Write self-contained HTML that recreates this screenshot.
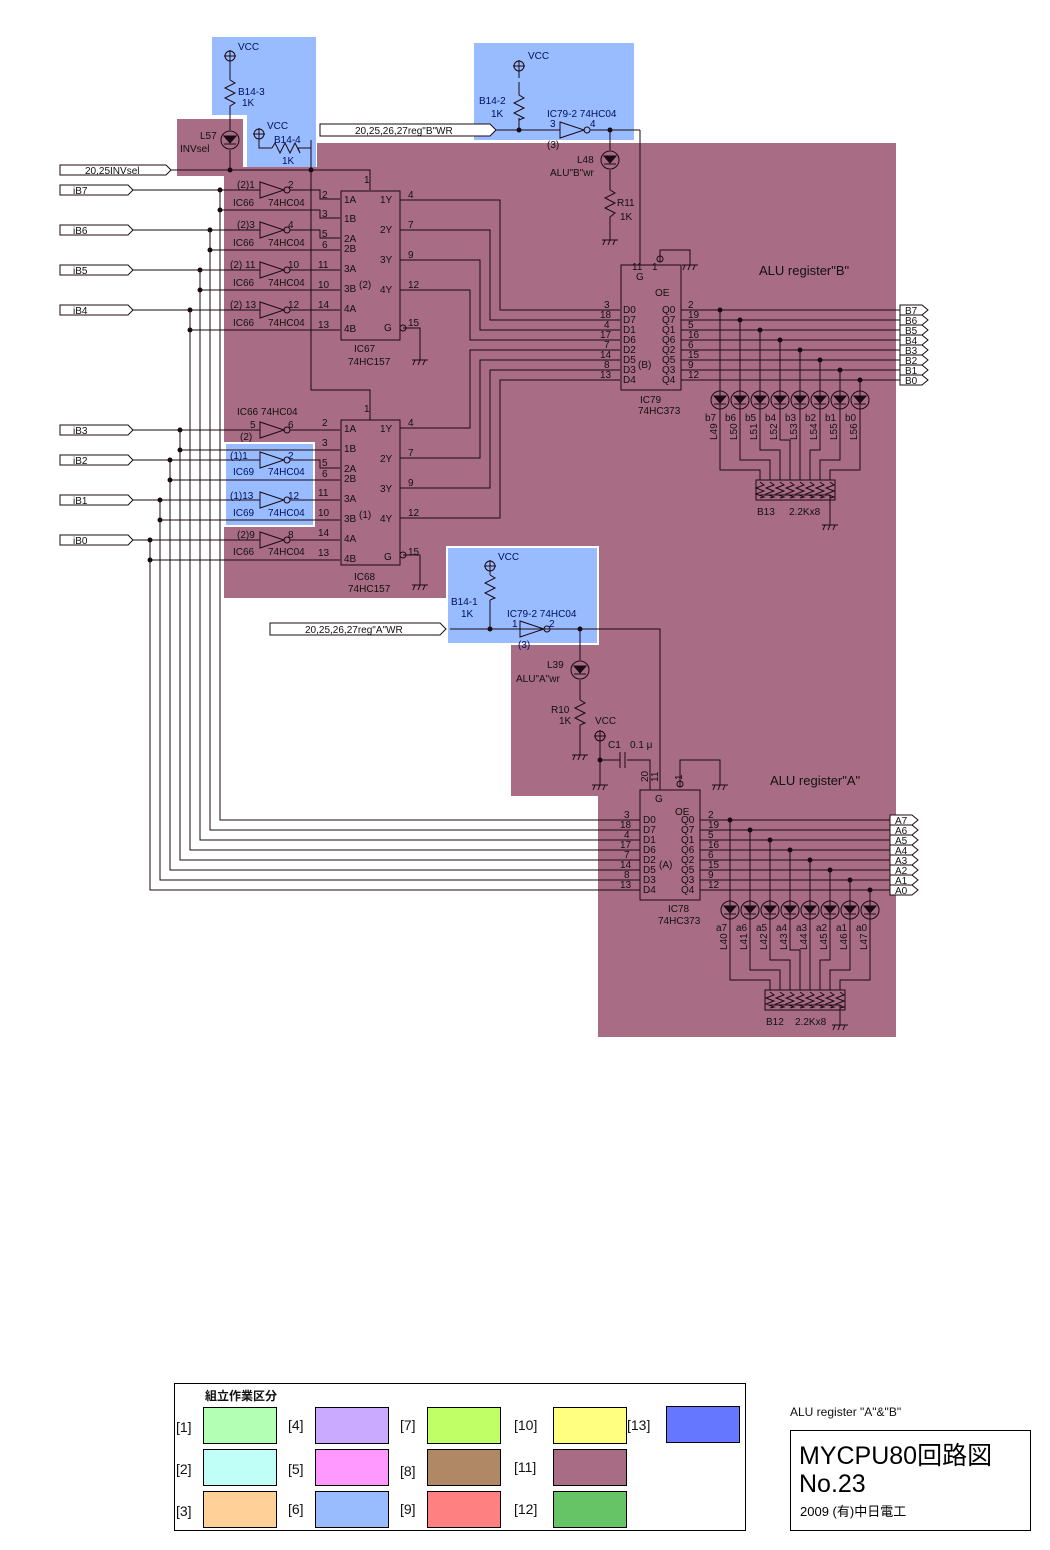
<!DOCTYPE html>
<html><head><meta charset="utf-8">
<style>
html,body{margin:0;padding:0;background:#fff;}
svg{display:block;}
text{font-family:"Liberation Sans","Noto Sans CJK JP",sans-serif;font-size:10px;fill:#111;}
.b text{fill:#001060;}
</style></head>
<body>
<svg width="1050" height="1550" viewBox="0 0 1050 1550" xmlns="http://www.w3.org/2000/svg">
<!-- colour regions -->
<g fill="#a86c84">
<rect x="317" y="143" width="579" height="405"/>
<rect x="224" y="167" width="100" height="381"/>
<rect x="224" y="548" width="222" height="50"/>
<rect x="597" y="548" width="299" height="95"/>
<rect x="511" y="643" width="385" height="153"/>
<rect x="598" y="796" width="298" height="241"/>
<rect x="177" y="119" width="66" height="57"/>
</g>
<g fill="#99bbff">
<rect x="212" y="37" width="104" height="78"/>
<rect x="247" y="115" width="69" height="52"/>
<rect x="474" y="43" width="160" height="97"/>
<rect x="226" y="444" width="87" height="81"/>
<rect x="448" y="548" width="149" height="95"/>
</g>
<g fill="none" stroke="#fff" stroke-width="2">
<rect x="225" y="443" width="89" height="83"/>
<rect x="447" y="547" width="151" height="97"/>
</g>

<g stroke="#1a0a12" stroke-width="1" fill="none">
<!-- input labels -->
<path d="M60,165h106l5,5l-5,5h-106z" fill="#fff"/>
<path d="M60,185h68l5,5l-5,5h-68z" fill="#fff"/>
<path d="M60,225h68l5,5l-5,5h-68z" fill="#fff"/>
<path d="M60,265h68l5,5l-5,5h-68z" fill="#fff"/>
<path d="M60,305h68l5,5l-5,5h-68z" fill="#fff"/>
<path d="M60,425h68l5,5l-5,5h-68z" fill="#fff"/>
<path d="M60,455h68l5,5l-5,5h-68z" fill="#fff"/>
<path d="M60,495h68l5,5l-5,5h-68z" fill="#fff"/>
<path d="M60,535h68l5,5l-5,5h-68z" fill="#fff"/>
<path d="M171,170H370V190"/>
<!-- inputs to inverters -->
<path d="M133,190H260M133,230H260M133,270H260M133,310H260M133,430H260M133,460H260M133,500H260M133,540H260"/>
<!-- branches to B inputs -->
<path d="M220,210H320V218H340M210,250H340M200,290H340M190,330H340"/>
<path d="M180,450H340M170,480H340M160,520H340M150,560H340"/>
<!-- inverter outputs -->
<path d="M290,190H320V199H340M290,230H320V238H340M290,270H340M290,310H340"/>
<path d="M290,430H340M290,460H320V468H340M290,500H340M290,540H340"/>
<!-- buses -->
<path d="M220,190V820H640M210,230V830H640M200,270V840H640M190,310V850H640M180,430V860H640M170,460V870H640M160,500V880H640M150,540V890H640"/>
<!-- inverters -->
<g fill="none">
<path d="M260,182V198L284,190Z"/><circle cx="287" cy="190" r="3"/>
<path d="M260,222V238L284,230Z"/><circle cx="287" cy="230" r="3"/>
<path d="M260,262V278L284,270Z"/><circle cx="287" cy="270" r="3"/>
<path d="M260,302V318L284,310Z"/><circle cx="287" cy="310" r="3"/>
<path d="M260,422V438L284,430Z"/><circle cx="287" cy="430" r="3"/>
<path d="M260,452V468L284,460Z"/><circle cx="287" cy="460" r="3"/>
<path d="M260,492V508L284,500Z"/><circle cx="287" cy="500" r="3"/>
<path d="M260,532V548L284,540Z"/><circle cx="287" cy="540" r="3"/>
</g>
<!-- IC67 / IC68 -->
<rect x="341" y="191" width="59" height="149"/>
<rect x="341" y="420" width="59" height="145"/>
<path d="M311,140V390H370V420"/>
<path d="M403,328H420V360M403,555H420V585"/>
<circle cx="403" cy="328" r="3"/><circle cx="403" cy="555" r="3"/>
<!-- mux outputs to IC79 -->
<path d="M400,200H500V310H620M400,230H490V320H620M400,260H480V330H620M400,290H470V340H620"/>
<path d="M400,428H470V350H620M400,458H480V360H620M400,488H490V370H620M400,518H500V380H620"/>
<!-- IC79 -->
<rect x="621" y="265" width="60" height="125"/>
<path d="M640,265V130M660,262V250H690V265"/><circle cx="660" cy="259" r="3"/>
<path d="M681,310H900M681,320H900M681,330H900M681,340H900M681,350H900M681,360H900M681,370H900M681,380H900"/>
<path d="M900,305h22l6,5l-6,5h-22zM900,315h22l6,5l-6,5h-22zM900,325h22l6,5l-6,5h-22zM900,335h22l6,5l-6,5h-22zM900,345h22l6,5l-6,5h-22zM900,355h22l6,5l-6,5h-22zM900,365h22l6,5l-6,5h-22zM900,375h22l6,5l-6,5h-22z" fill="#fff"/>
<path d="M720,310V470H760V480M740,320V460H770V480M760,330V450H780V480M780,340V440H790V480M800,350V440V480M820,360V450H810V480M840,370V460H820V480M860,380V470H830V480"/>
<rect x="756" y="480" width="79" height="20"/>
<path d="M760,495H830V525"/>
<!-- IC78 -->
<rect x="640" y="790" width="60" height="110"/>
<path d="M700,820H890M700,830H890M700,840H890M700,850H890M700,860H890M700,870H890M700,880H890M700,890H890"/>
<path d="M890,815h22l6,5l-6,5h-22zM890,825h22l6,5l-6,5h-22zM890,835h22l6,5l-6,5h-22zM890,845h22l6,5l-6,5h-22zM890,855h22l6,5l-6,5h-22zM890,865h22l6,5l-6,5h-22zM890,875h22l6,5l-6,5h-22zM890,885h22l6,5l-6,5h-22z" fill="#fff"/>
<path d="M730,820V980H770V990M750,830V970H780V990M770,840V960H790V990M790,850V950H800V990M810,860V950V990M830,870V960H820V990M850,880V970H830V990M870,890V980H840V990"/>
<rect x="765" y="990" width="80" height="20"/>
<path d="M770,1005H840V1025"/>
<path d="M660,790V629H450M680,787V760H720V785"/><circle cx="680" cy="784" r="3"/>
<path d="M650,790V760H627M620,760H600V785M600,760V740"/>
<path d="M620,752V768M625,752V768"/>
<!-- register A write -->
<path d="M270,623h170l6,6l-6,6h-170z" fill="#fff"/>
<path d="M490,629H520M490,629V600M490,575V565"/>
<path d="M520,621V637L544,629Z"/><circle cx="547" cy="629" r="3"/>
<path d="M550,629H660M580,629V660M580,680V700M580,725V755"/>
<!-- register B write -->
<path d="M320,124h170l6,6l-6,6h-170z" fill="#fff"/>
<path d="M496,130H560M519,130V118M519,78V70M519,95V82"/>
<path d="M560,122V138L584,130Z"/><circle cx="587" cy="130" r="3"/>
<path d="M590,130H640M610,130V150M610,170V190M610,222V240"/>
<!-- top left -->
<path d="M230,60V80M230,110V130M230,150V170M259,138V148H272M300,148H311"/>
</g>

<!-- resistors -->
<g stroke="#1a0a12" fill="none">
<path d="M230,80l5,3l-10,5l10,5l-10,5l10,5l-5,3V110"/>
<path d="M519,95l5,3l-10,5l10,5l-10,5l10,5l-5,2V130"/>
<path d="M490,575l5,3l-10,5l10,5l-10,5l10,5l-5,2V600"/>
<path d="M610,190l5,3l-10,5l10,5l-10,5l10,5l-5,4V222"/>
<path d="M580,700l5,3l-10,5l10,5l-10,5l10,5l-5,2V725"/>
<path d="M272,148l3,-5l5,10l5,-10l5,10l5,-10l5,10l-2,-5H300"/>
<path d="M760,482l4,3l-8,3l8,3l-8,3l8,3l-4,1M770,482l4,3l-8,3l8,3l-8,3l8,3l-4,1M780,482l4,3l-8,3l8,3l-8,3l8,3l-4,1M790,482l4,3l-8,3l8,3l-8,3l8,3l-4,1M800,482l4,3l-8,3l8,3l-8,3l8,3l-4,1M810,482l4,3l-8,3l8,3l-8,3l8,3l-4,1M820,482l4,3l-8,3l8,3l-8,3l8,3l-4,1M830,482l4,3l-8,3l8,3l-8,3l8,3l-4,1"/>
<path d="M770,992l4,3l-8,3l8,3l-8,3l8,3l-4,1M780,992l4,3l-8,3l8,3l-8,3l8,3l-4,1M790,992l4,3l-8,3l8,3l-8,3l8,3l-4,1M800,992l4,3l-8,3l8,3l-8,3l8,3l-4,1M810,992l4,3l-8,3l8,3l-8,3l8,3l-4,1M820,992l4,3l-8,3l8,3l-8,3l8,3l-4,1M830,992l4,3l-8,3l8,3l-8,3l8,3l-4,1M840,992l4,3l-8,3l8,3l-8,3l8,3l-4,1"/>
</g>

<!-- grounds -->
<g stroke="#1a0a12" fill="none">
<path d="M412,360h16M415,360l-2,5M420,360l-2,5M425,360l-2,5"/>
<path d="M412,585h16M415,585l-2,5M420,585l-2,5M425,585l-2,5"/>
<path d="M682,265h16M685,265l-2,5M690,265l-2,5M695,265l-2,5"/>
<path d="M602,240h16M605,240l-2,5M610,240l-2,5M615,240l-2,5"/>
<path d="M822,525h16M825,525l-2,5M830,525l-2,5M835,525l-2,5"/>
<path d="M572,755h16M575,755l-2,5M580,755l-2,5M585,755l-2,5"/>
<path d="M592,785h16M595,785l-2,5M600,785l-2,5M605,785l-2,5"/>
<path d="M712,785h16M715,785l-2,5M720,785l-2,5M725,785l-2,5"/>
<path d="M832,1025h16M835,1025l-2,5M840,1025l-2,5M845,1025l-2,5"/>
</g>

<!-- VCC symbols -->
<g stroke="#1a0a12" fill="none">
<circle cx="230" cy="56" r="5"/><path d="M224,56h12M230,50v10"/>
<circle cx="259" cy="134" r="5"/><path d="M253,134h12M259,128v10"/>
<circle cx="519" cy="66" r="5"/><path d="M513,66h12M519,60v10"/>
<circle cx="490" cy="566" r="5"/><path d="M484,566h12M490,560v10"/>
<circle cx="600" cy="736" r="5"/><path d="M594,736h12M600,730v10"/>
</g>

<!-- LEDs -->
<g stroke="#1a0a12" fill="none">
<circle cx="230" cy="140" r="9"/><circle cx="610" cy="160" r="9"/><circle cx="580" cy="670" r="9"/>
<circle cx="720" cy="400" r="9"/><circle cx="740" cy="400" r="9"/><circle cx="760" cy="400" r="9"/><circle cx="780" cy="400" r="9"/><circle cx="800" cy="400" r="9"/><circle cx="820" cy="400" r="9"/><circle cx="840" cy="400" r="9"/><circle cx="860" cy="400" r="9"/>
<circle cx="730" cy="910" r="9"/><circle cx="750" cy="910" r="9"/><circle cx="770" cy="910" r="9"/><circle cx="790" cy="910" r="9"/><circle cx="810" cy="910" r="9"/><circle cx="830" cy="910" r="9"/><circle cx="850" cy="910" r="9"/><circle cx="870" cy="910" r="9"/>
</g>
<g fill="#1a0a12" stroke="#1a0a12">
<path d="M224,136h12l-6,7zM224,144h12"/><path d="M604,156h12l-6,7zM604,164h12"/><path d="M574,666h12l-6,7zM574,674h12"/>
<path d="M714,396h12l-6,7zM714,404h12M734,396h12l-6,7zM734,404h12M754,396h12l-6,7zM754,404h12M774,396h12l-6,7zM774,404h12M794,396h12l-6,7zM794,404h12M814,396h12l-6,7zM814,404h12M834,396h12l-6,7zM834,404h12M854,396h12l-6,7zM854,404h12"/>
<path d="M724,906h12l-6,7zM724,914h12M744,906h12l-6,7zM744,914h12M764,906h12l-6,7zM764,914h12M784,906h12l-6,7zM784,914h12M804,906h12l-6,7zM804,914h12M824,906h12l-6,7zM824,914h12M844,906h12l-6,7zM844,914h12M864,906h12l-6,7zM864,914h12"/>
</g>

<!-- dots -->
<g fill="#1a0a12">
<circle cx="220" cy="190" r="2.5"/><circle cx="220" cy="210" r="2.5"/>
<circle cx="210" cy="230" r="2.5"/><circle cx="210" cy="250" r="2.5"/>
<circle cx="200" cy="270" r="2.5"/><circle cx="200" cy="290" r="2.5"/>
<circle cx="190" cy="310" r="2.5"/><circle cx="190" cy="330" r="2.5"/>
<circle cx="180" cy="430" r="2.5"/><circle cx="180" cy="450" r="2.5"/>
<circle cx="170" cy="460" r="2.5"/><circle cx="170" cy="480" r="2.5"/>
<circle cx="160" cy="500" r="2.5"/><circle cx="160" cy="520" r="2.5"/>
<circle cx="150" cy="540" r="2.5"/><circle cx="150" cy="560" r="2.5"/>
<circle cx="230" cy="170" r="2.5"/><circle cx="311" cy="170" r="2.5"/>
<circle cx="519" cy="130" r="2.5"/><circle cx="610" cy="130" r="2.5"/>
<circle cx="490" cy="629" r="2.5"/><circle cx="580" cy="629" r="2.5"/><circle cx="600" cy="760" r="2.5"/>
<circle cx="720" cy="310" r="2.5"/><circle cx="740" cy="320" r="2.5"/><circle cx="760" cy="330" r="2.5"/><circle cx="780" cy="340" r="2.5"/><circle cx="800" cy="350" r="2.5"/><circle cx="820" cy="360" r="2.5"/><circle cx="840" cy="370" r="2.5"/><circle cx="860" cy="380" r="2.5"/>
<circle cx="730" cy="820" r="2.5"/><circle cx="750" cy="830" r="2.5"/><circle cx="770" cy="840" r="2.5"/><circle cx="790" cy="850" r="2.5"/><circle cx="810" cy="860" r="2.5"/><circle cx="830" cy="870" r="2.5"/><circle cx="850" cy="880" r="2.5"/><circle cx="870" cy="890" r="2.5"/>
</g>

<!-- texts -->
<text x="85" y="174">20,25INVsel</text>
<text x="73" y="194">iB7</text><text x="73" y="234">iB6</text><text x="73" y="274">iB5</text><text x="73" y="314">iB4</text>
<text x="73" y="434">iB3</text><text x="73" y="464">iB2</text><text x="73" y="504">iB1</text><text x="73" y="544">iB0</text>
<g class="b">
<text x="238" y="50">VCC</text><text x="238" y="95">B14-3</text><text x="242" y="106">1K</text>
<text x="267" y="129">VCC</text><text x="274" y="143">B14-4</text><text x="282" y="164">1K</text>
<text x="528" y="59">VCC</text><text x="479" y="104">B14-2</text><text x="491" y="117">1K</text>
<text x="547" y="117">IC79-2  74HC04</text><text x="550" y="127">3</text><text x="590" y="127">4</text>
<text x="498" y="560">VCC</text><text x="451" y="605">B14-1</text><text x="461" y="617">1K</text>
<text x="507" y="617">IC79-2  74HC04</text><text x="512" y="627">1</text><text x="549" y="627">2</text><text x="518" y="648">(3)</text>
<text x="230" y="459">(1)1</text><text x="288" y="459">2</text><text x="233" y="475">IC69</text><text x="268" y="475">74HC04</text>
<text x="230" y="499">(1)13</text><text x="288" y="499">12</text><text x="233" y="516">IC69</text><text x="268" y="516">74HC04</text>
</g>
<text x="200" y="139">L57</text><text x="180" y="152">INVsel</text>
<text x="547" y="148">(3)</text>
<text x="577" y="163">L48</text><text x="550" y="176">ALU"B"wr</text>
<text x="617" y="206">R11</text><text x="620" y="220">1K</text>
<text x="237" y="188">(2)1</text><text x="288" y="188">2</text><text x="233" y="206">IC66</text><text x="268" y="206">74HC04</text>
<text x="237" y="228">(2)3</text><text x="288" y="228">4</text><text x="233" y="246">IC66</text><text x="268" y="246">74HC04</text>
<text x="230" y="268">(2) 11</text><text x="288" y="268">10</text><text x="233" y="286">IC66</text><text x="268" y="286">74HC04</text>
<text x="230" y="308">(2) 13</text><text x="288" y="308">12</text><text x="233" y="326">IC66</text><text x="268" y="326">74HC04</text>
<text x="237" y="415">IC66  74HC04</text><text x="250" y="428">5</text><text x="288" y="428">6</text><text x="240" y="440">(2)</text>
<text x="237" y="538">(2)9</text><text x="288" y="538">8</text><text x="233" y="555">IC66</text><text x="268" y="555">74HC04</text>
<text x="322" y="198">2</text><text x="322" y="217">3</text><text x="322" y="237">5</text><text x="322" y="248">6</text><text x="318" y="268">11</text><text x="318" y="288">10</text><text x="318" y="308">14</text><text x="318" y="328">13</text>
<text x="344" y="203">1A</text><text x="344" y="222">1B</text><text x="344" y="242">2A</text><text x="344" y="252">2B</text><text x="344" y="272">3A</text><text x="344" y="292">3B</text><text x="344" y="312">4A</text><text x="344" y="332">4B</text>
<text x="380" y="203">1Y</text><text x="380" y="233">2Y</text><text x="380" y="263">3Y</text><text x="380" y="293">4Y</text><text x="384" y="331">G</text><text x="359" y="288">(2)</text>
<text x="408" y="198">4</text><text x="408" y="228">7</text><text x="408" y="258">9</text><text x="408" y="288">12</text><text x="408" y="326">15</text>
<text x="354" y="352">IC67</text><text x="348" y="365">74HC157</text>
<text x="322" y="426">2</text><text x="322" y="446">3</text><text x="322" y="466">5</text><text x="322" y="477">6</text><text x="318" y="496">11</text><text x="318" y="516">10</text><text x="318" y="536">14</text><text x="318" y="556">13</text>
<text x="344" y="432">1A</text><text x="344" y="452">1B</text><text x="344" y="472">2A</text><text x="344" y="482">2B</text><text x="344" y="502">3A</text><text x="344" y="522">3B</text><text x="344" y="542">4A</text><text x="344" y="562">4B</text>
<text x="380" y="432">1Y</text><text x="380" y="462">2Y</text><text x="380" y="492">3Y</text><text x="380" y="522">4Y</text><text x="384" y="560">G</text><text x="359" y="518">(1)</text>
<text x="408" y="426">4</text><text x="408" y="456">7</text><text x="408" y="486">9</text><text x="408" y="516">12</text><text x="408" y="555">15</text>
<text x="354" y="580">IC68</text><text x="348" y="592">74HC157</text>
<text x="364" y="183">1</text><text x="364" y="412">1</text>
<text x="759" y="275" style="font-size:13px">ALU   register"B"</text>
<text x="632" y="270">11</text><text x="652" y="270">1</text>
<text x="636" y="280">G</text><text x="655" y="296">OE</text>
<text x="604" y="308">3</text><text x="600" y="318">18</text><text x="604" y="328">4</text><text x="600" y="338">17</text><text x="604" y="348">7</text><text x="600" y="358">14</text><text x="604" y="368">8</text><text x="600" y="378">13</text>
<text x="623" y="313">D0</text><text x="623" y="323">D7</text><text x="623" y="333">D1</text><text x="623" y="343">D6</text><text x="623" y="353">D2</text><text x="623" y="363">D5</text><text x="623" y="373">D3</text><text x="623" y="383">D4</text>
<text x="662" y="313">Q0</text><text x="662" y="323">Q7</text><text x="662" y="333">Q1</text><text x="662" y="343">Q6</text><text x="662" y="353">Q2</text><text x="662" y="363">Q5</text><text x="662" y="373">Q3</text><text x="662" y="383">Q4</text>
<text x="638" y="368">(B)</text>
<text x="688" y="308">2</text><text x="688" y="318">19</text><text x="688" y="328">5</text><text x="688" y="338">16</text><text x="688" y="348">6</text><text x="688" y="358">15</text><text x="688" y="368">9</text><text x="688" y="378">12</text>
<text x="640" y="403">IC79</text><text x="638" y="414">74HC373</text>
<text x="905" y="314">B7</text><text x="905" y="324">B6</text><text x="905" y="334">B5</text><text x="905" y="344">B4</text><text x="905" y="354">B3</text><text x="905" y="364">B2</text><text x="905" y="374">B1</text><text x="905" y="384">B0</text>
<text x="705" y="421">b7</text><text x="725" y="421">b6</text><text x="745" y="421">b5</text><text x="765" y="421">b4</text><text x="785" y="421">b3</text><text x="805" y="421">b2</text><text x="825" y="421">b1</text><text x="845" y="421">b0</text>
<g>
<text transform="translate(717,440) rotate(-90)">L49</text><text transform="translate(737,440) rotate(-90)">L50</text><text transform="translate(757,440) rotate(-90)">L51</text><text transform="translate(777,440) rotate(-90)">L52</text><text transform="translate(797,440) rotate(-90)">L53</text><text transform="translate(817,440) rotate(-90)">L54</text><text transform="translate(837,440) rotate(-90)">L55</text><text transform="translate(857,440) rotate(-90)">L56</text>
<text transform="translate(727,950) rotate(-90)">L40</text><text transform="translate(747,950) rotate(-90)">L41</text><text transform="translate(767,950) rotate(-90)">L42</text><text transform="translate(787,950) rotate(-90)">L43</text><text transform="translate(807,950) rotate(-90)">L44</text><text transform="translate(827,950) rotate(-90)">L45</text><text transform="translate(847,950) rotate(-90)">L46</text><text transform="translate(867,950) rotate(-90)">L47</text>
</g>
<text x="757" y="515">B13</text><text x="789" y="515">2.2Kx8</text>
<text x="355" y="134">20,25,26,27reg"B"WR</text>
<text x="305" y="633">20,25,26,27reg"A"WR</text>
<text x="547" y="668">L39</text><text x="516" y="682">ALU"A"wr</text>
<text x="551" y="713">R10</text><text x="559" y="724">1K</text>
<text x="595" y="724">VCC</text><text x="608" y="748">C1</text><text x="630" y="748">0.1 μ</text>
<text x="770" y="785" style="font-size:13px">ALU   register"A"</text>
<text transform="translate(648,782) rotate(-90)">20</text><text transform="translate(658,782) rotate(-90)">11</text><text transform="translate(682,780) rotate(-90)">1</text>
<text x="655" y="802">G</text><text x="675" y="815">OE</text>
<text x="624" y="818">3</text><text x="620" y="828">18</text><text x="624" y="838">4</text><text x="620" y="848">17</text><text x="624" y="858">7</text><text x="620" y="868">14</text><text x="624" y="878">8</text><text x="620" y="888">13</text>
<text x="643" y="823">D0</text><text x="643" y="833">D7</text><text x="643" y="843">D1</text><text x="643" y="853">D6</text><text x="643" y="863">D2</text><text x="643" y="873">D5</text><text x="643" y="883">D3</text><text x="643" y="893">D4</text>
<text x="681" y="823">Q0</text><text x="681" y="833">Q7</text><text x="681" y="843">Q1</text><text x="681" y="853">Q6</text><text x="681" y="863">Q2</text><text x="681" y="873">Q5</text><text x="681" y="883">Q3</text><text x="681" y="893">Q4</text>
<text x="659" y="868">(A)</text>
<text x="708" y="818">2</text><text x="708" y="828">19</text><text x="708" y="838">5</text><text x="708" y="848">16</text><text x="708" y="858">6</text><text x="708" y="868">15</text><text x="708" y="878">9</text><text x="708" y="888">12</text>
<text x="668" y="912">IC78</text><text x="658" y="924">74HC373</text>
<text x="895" y="824">A7</text><text x="895" y="834">A6</text><text x="895" y="844">A5</text><text x="895" y="854">A4</text><text x="895" y="864">A3</text><text x="895" y="874">A2</text><text x="895" y="884">A1</text><text x="895" y="894">A0</text>
<text x="716" y="931">a7</text><text x="736" y="931">a6</text><text x="756" y="931">a5</text><text x="776" y="931">a4</text><text x="796" y="931">a3</text><text x="816" y="931">a2</text><text x="836" y="931">a1</text><text x="856" y="931">a0</text>
<text x="766" y="1025">B12</text><text x="795" y="1025">2.2Kx8</text>

<!-- legend -->
<rect x="174.5" y="1383.5" width="571" height="147" fill="#fff" stroke="#000"/>
<text x="205" y="1400" style="font-size:12px;font-weight:bold">組立作業区分</text>
<g stroke="#000">
<rect x="203.5" y="1407.5" width="73" height="36" fill="#b3ffb3"/>
<rect x="203.5" y="1449.5" width="73" height="36" fill="#c0fff8"/>
<rect x="203.5" y="1491.5" width="73" height="36" fill="#ffd199"/>
<rect x="315.5" y="1407.5" width="73" height="36" fill="#c9aaff"/>
<rect x="315.5" y="1449.5" width="73" height="36" fill="#ff99ff"/>
<rect x="315.5" y="1491.5" width="73" height="36" fill="#99bbff"/>
<rect x="427.5" y="1407.5" width="73" height="36" fill="#c0ff66"/>
<rect x="427.5" y="1449.5" width="73" height="36" fill="#b08866"/>
<rect x="427.5" y="1491.5" width="73" height="36" fill="#ff8080"/>
<rect x="553.5" y="1407.5" width="73" height="36" fill="#ffff80"/>
<rect x="553.5" y="1449.5" width="73" height="36" fill="#a86c84"/>
<rect x="553.5" y="1491.5" width="73" height="36" fill="#66c466"/>
<rect x="666.5" y="1406.5" width="73" height="36" fill="#6677ff"/>
</g>
<g style="font-size:14px">
<text x="176" y="1432" style="font-size:14px">[1]</text><text x="176" y="1474" style="font-size:14px">[2]</text><text x="176" y="1516" style="font-size:14px">[3]</text>
<text x="288" y="1430" style="font-size:14px">[4]</text><text x="288" y="1474" style="font-size:14px">[5]</text><text x="288" y="1514" style="font-size:14px">[6]</text>
<text x="400" y="1430" style="font-size:14px">[7]</text><text x="400" y="1476" style="font-size:14px">[8]</text><text x="400" y="1514" style="font-size:14px">[9]</text>
<text x="514" y="1430" style="font-size:14px">[10]</text><text x="514" y="1472" style="font-size:14px">[11]</text><text x="514" y="1514" style="font-size:14px">[12]</text>
<text x="627" y="1430" style="font-size:14px">[13]</text>
</g>
<text x="790" y="1416" style="font-size:12px">ALU register  "A"&amp;"B"</text>
<rect x="790.5" y="1430.5" width="240" height="100" fill="#fff" stroke="#000"/>
<text x="799" y="1464" style="font-size:25px;fill:#000">MYCPU80回路図</text>
<text x="799" y="1492" style="font-size:25px;fill:#000">No.23</text>
<text x="800" y="1516" style="font-size:13px;fill:#000">2009 (有)中日電工</text>
</svg>
</body></html>
